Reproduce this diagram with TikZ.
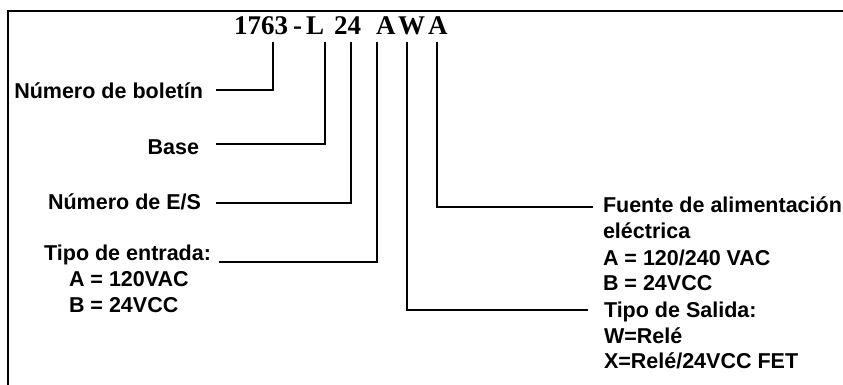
\documentclass[tikz,border=0pt]{standalone}
\usepackage{fontspec}
\setmainfont{Liberation Serif}
\setsansfont{Liberation Sans}
\begin{document}
\begin{tikzpicture}[x=1pt,y=-1pt,line width=2pt,
  every node/.style={inner sep=0pt},
  code/.style={font=\bfseries\fontsize{27}{30}\selectfont,anchor=base west},
  lbl/.style={font=\sffamily\bfseries\fontsize{21.5}{26}\selectfont},
  lblL/.style={lbl,anchor=base east},
  lblR/.style={lbl,anchor=base west}]
  \path[use as bounding box] (0,0) rectangle (843,385);
  % frame
  \draw[line width=2.2pt] (8,385)--(8,11)--(843,11);
  % catalogue number
  \node[code] (tNum) at (233,35) {1763};
  \node[code] (tDash) at (292,35) {-};
  \node[code] (tL) at (305,35) {L};
  \node[code] (tIO) at (333,35) {24};
  \node[code] (tIn) at (375,35) {A};
  \node[code] (tOut) at (397,35) {W};
  \node[code] (tPow) at (427,35) {A};
  \coordinate (cNum) at (273,42);
  \coordinate (cL) at (325,42);
  \coordinate (cIO) at (351,42);
  \coordinate (cIn) at (377,42);
  \coordinate (cOut) at (407,42);
  \coordinate (cPow) at (437,42);
  % left labels
  \node[lblL] (bol) at (204,99) {Número de boletín};
  \node[lblL] (base) at (200,154) {Base};
  \node[lblL] (es) at (202,209) {Número de E/S};
  \node[lblL] (ent) at (212,260) {Tipo de entrada:};
  \node[lblR] (entA) at (68,286) {A = 120VAC};
  \node[lblR] (entB) at (68,312) {B = 24VCC};
  % right labels
  \node[lblR] (fue) at (602,212) {Fuente de alimentación};
  \node[lblR] (fue2) at (602,238) {eléctrica};
  \node[lblR] (fueA) at (602,265) {A = 120/240 VAC};
  \node[lblR] (fueB) at (602,290) {B = 24VCC};
  \node[lblR] (sal) at (603,317) {Tipo de Salida:};
  \node[lblR] (salW) at (603,343) {W=Relé};
  \node[lblR] (salX) at (603,368) {X=Relé/24VCC FET};
  % leaders
  \draw (cNum) |- ([shift={(12,-9)}]bol.base east);
  \draw (cL) |- ([shift={(16,-10)}]base.base east);
  \draw (cIO) |- ([shift={(14,-6.5)}]es.base east);
  \draw (cIn) |- ([shift={(7,2)}]ent.base east);
  \draw (cPow) |- ([shift={(-9,-5.5)}]fue.base west);
  \draw (cOut) |- ([shift={(-15,-7)}]sal.base west);
\end{tikzpicture}
\end{document}
